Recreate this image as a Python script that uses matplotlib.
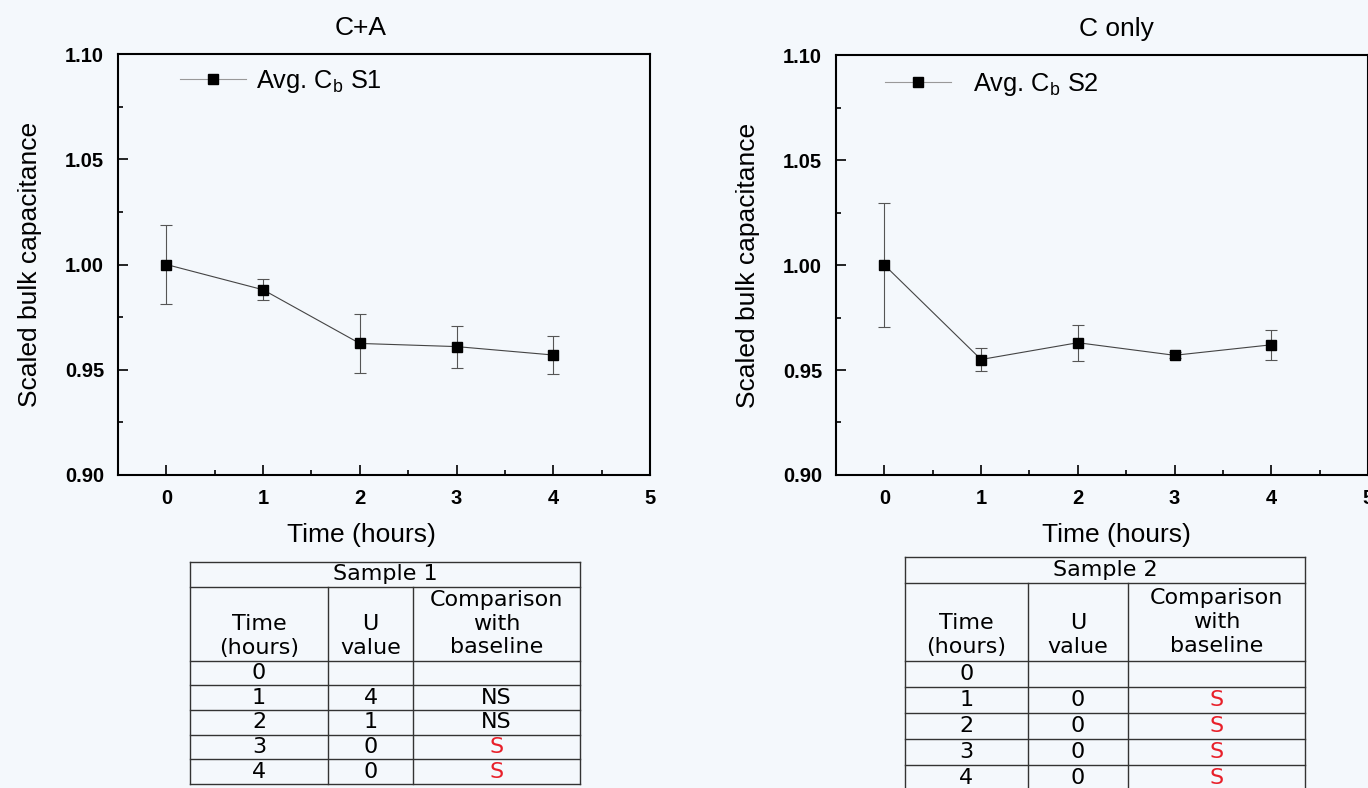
import matplotlib
matplotlib.use('Agg')
from matplotlib import pyplot as plt
from matplotlib.ticker import MultipleLocator, FormatStrFormatter

plt.rcParams['font.family'] = ['Liberation Sans', 'DejaVu Sans']
plt.rcParams['mathtext.fontset'] = 'custom'
plt.rcParams['mathtext.rm'] = 'Liberation Sans'

# data
hours = [0, 1, 2, 3, 4]
s1_mean = [1.000, 0.988, 0.9625, 0.961, 0.957]
s1_err = [0.019, 0.005, 0.014, 0.010, 0.009]
s2_mean = [1.000, 0.955, 0.963, 0.957, 0.962]
s2_err = [0.0295, 0.0055, 0.0085, 0.0015, 0.007]

table_times = ['0', '1', '2', '3', '4']
s1_u = ['', '4', '1', '0', '0']
s1_cmp = ['', 'NS', 'NS', 'S', 'S']
s2_u = ['', '0', '0', '0', '0']
s2_cmp = ['', 'S', 'S', 'S', 'S']

bg = '#f4f8fc'
W, H = 1368, 788
fig = plt.figure(figsize=(13.68, 7.88), dpi=100, facecolor=bg)


def px_axes(x0, x1, y0, y1):
    return fig.add_axes([x0 / W, (H - y1) / H, (x1 - x0) / W, (y1 - y0) / H])


def draw_plot(ax, mean, err, title, title_x, label, leg_x, leg_y, textpad):
    ax.set_facecolor(bg)
    ax.errorbar(hours, mean, yerr=err, fmt='none', ecolor='#555555',
                elinewidth=0.8, capsize=4, capthick=0.8)
    ax.plot(hours, mean, '-s', color='#444444', lw=0.8, markersize=7,
            markerfacecolor='black', markeredgecolor='black', label=label)
    ax.set_xlim(-0.5, 5)
    ax.set_ylim(0.90, 1.10)
    ax.xaxis.set_major_locator(MultipleLocator(1))
    ax.xaxis.set_minor_locator(MultipleLocator(0.5))
    ax.yaxis.set_major_locator(MultipleLocator(0.05))
    ax.yaxis.set_minor_locator(MultipleLocator(0.025))
    ax.yaxis.set_major_formatter(FormatStrFormatter('%.2f'))
    ax.tick_params(which='both', direction='in', top=False, right=False, width=1.2)
    ax.tick_params(which='major', length=7.2, pad=10, labelsize=14.5)
    ax.tick_params(which='minor', length=3.6)
    for t in ax.get_xticklabels() + ax.get_yticklabels():
        t.set_fontweight('bold')
    for s in ax.spines.values():
        s.set_linewidth(1.5)
    ax.set_xlabel('Time (hours)', fontsize=19)
    ax.xaxis.set_label_coords(title_x, -0.143)
    ax.xaxis.label.set_va('center')
    ax.set_ylabel('Scaled bulk capacitance', fontsize=19)
    ax.yaxis.set_label_coords(-0.165, 0.5)
    ax.yaxis.label.set_va('center')
    ax.text(title_x, 1.062, title, transform=ax.transAxes, ha='center',
            va='center', fontsize=19)
    leg = ax.legend(loc='center left', bbox_to_anchor=(leg_x, leg_y), frameon=False,
                    fontsize=18.3, handlelength=2.6, handletextpad=textpad,
                    borderpad=0, borderaxespad=0)
    leg.get_lines()[0].set_color('#999999')


ax1 = px_axes(118, 650, 54, 475)
draw_plot(ax1, s1_mean, s1_err, 'C+A', 0.457, 'Avg. C$_{\\rm b}$ S1', 0.117, 0.935, 0.4)
ax2 = px_axes(836, 1368, 55, 475)
draw_plot(ax2, s2_mean, s2_err, 'C only', 0.528, 'Avg. C$_{\\rm b}$ S2', 0.092, 0.93, 0.85)


def draw_table(ax, title, u_vals, cmp_vals, edges):
    ax.set_xlim(0, 1)
    ax.set_ylim(9, 0)
    ax.axis('off')
    lc = '#333333'
    fs = 16
    fam = ['DejaVu Sans']
    for y in [0, 1, 4, 5, 6, 7, 8, 9]:
        ax.plot([0, 1], [y, y], color=lc, lw=1, clip_on=False)
    for x in [0, 1]:
        ax.plot([x, x], [0, 9], color=lc, lw=1, clip_on=False)
    for x in edges:
        ax.plot([x, x], [1, 9], color=lc, lw=1, clip_on=False)
    cols = [0] + list(edges) + [1]
    cx = [(cols[i] + cols[i + 1]) / 2 for i in range(3)]
    ax.text(0.5, 0.5, title, ha='center', va='center', fontsize=fs, family=fam)
    heads = ['Time\n(hours)', 'U\nvalue', 'Comparison\nwith\nbaseline']
    for i, h in enumerate(heads):
        ax.text(cx[i], 3.0 if i < 2 else 2.5, h, ha='center', va='center',
                fontsize=fs, family=fam, linespacing=1.23)
    for r in range(len(table_times)):
        y = 4.5 + r
        ax.text(cx[0], y, table_times[r], ha='center', va='center', fontsize=fs, family=fam)
        ax.text(cx[1], y, u_vals[r], ha='center', va='center', fontsize=fs, family=fam)
        c = '#e8202a' if cmp_vals[r] == 'S' else 'black'
        ax.text(cx[2], y, cmp_vals[r], ha='center', va='center', fontsize=fs,
                family=fam, color=c)


tab1 = px_axes(190, 580, 562, 784)
draw_table(tab1, 'Sample 1', s1_u, s1_cmp, [0.354, 0.572])
tab2 = px_axes(905, 1305, 557, 791)
draw_table(tab2, 'Sample 2', s2_u, s2_cmp, [0.3075, 0.5575])

fig.savefig('out.png', dpi=100, facecolor=bg)
